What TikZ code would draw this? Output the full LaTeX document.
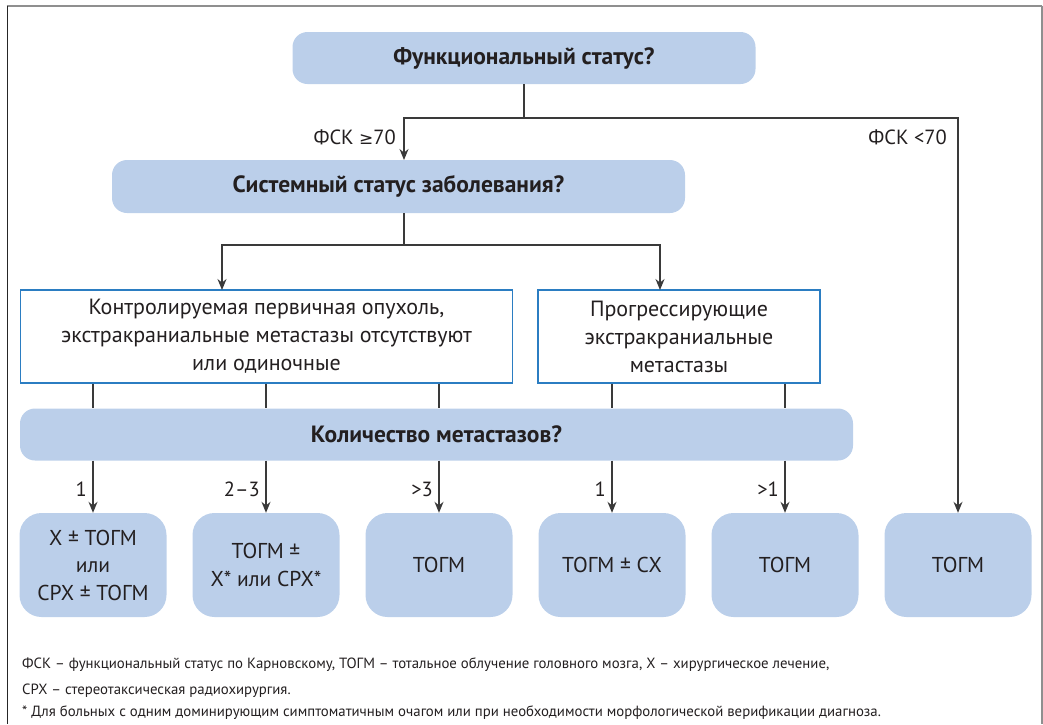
\documentclass[tikz,border=0pt]{standalone}
\usepackage{fontspec}
\setmainfont{PT Sans}
\newfontfamily\symfont{DejaVu Sans}
\usetikzlibrary{arrows.meta}
\definecolor{boxblue}{HTML}{BBCFEA}
\definecolor{edgeblue}{HTML}{2B7DC2}
\definecolor{linegray}{HTML}{3A3A3A}
\definecolor{txt}{HTML}{231F20}
\definecolor{framegray}{HTML}{8F8F8F}
\begin{document}
\begin{tikzpicture}[x=1pt,y=-1pt,
  qbox/.style={fill=boxblue, rounded corners=15pt, text=txt, inner sep=0pt,
    font=\fontsize{23.5}{28}\selectfont\bfseries},
  wbox/.style={draw=edgeblue, line width=1.3pt, fill=white, text=txt, inner sep=0pt,
    align=center, font=\fontsize{22}{28}\selectfont},
  rbox/.style={fill=boxblue, rounded corners=22pt, text=txt, inner sep=0pt,
    align=center, minimum width=147pt, minimum height=104pt,
    font=\fontsize{21.5}{27.5}\selectfont},
  conn/.style={draw=linegray, line width=1.4pt},
  arr/.style={conn, -{Stealth[length=11pt,width=9pt]}},
  lab/.style={text=txt, inner sep=0pt, font=\fontsize{20.5}{24}\selectfont},
  note/.style={text=txt, inner sep=0pt, anchor=base west, font=\fontsize{14.8}{18}\selectfont}
]
\useasboundingbox (0,0) rectangle (1043,724);
% frame
\draw[framegray, line width=2pt] (6.5,5.5) -- (1042,5.5);
\draw[framegray, line width=1.5pt] (1042,5.5) -- (1042,724);
\draw[black!85, line width=1.5pt] (7.5,5.5) -- (7.5,724);

% nodes
\node[qbox, minimum width=463pt, minimum height=52pt] (fs) at (524,58) {Функциональный статус?};
\node[qbox, minimum width=573pt, minimum height=53pt] (sys) at (398.5,186.5) {Системный статус заболевания?};
\node[wbox, minimum width=492pt, minimum height=93pt] (ctl) at (266.5,336.5)
  {Контролируемая первичная опухоль,\\экстракраниальные метастазы отсутствуют\\или одиночные};
\node[wbox, minimum width=282pt, minimum height=93pt] (prg) at (679,336.5)
  {Прогрессирующие\\экстракраниальные\\метастазы};
\node[qbox, minimum width=833pt, minimum height=52pt] (kol) at (436.5,434.5) {Количество метастазов?};

\node[rbox] (t1) at (93,565) {Х ± ТОГМ\\или\\СРХ ± ТОГМ};
\node[rbox] (t2) at (266,565) {ТОГМ ±\\Х* или СРХ*};
\node[rbox] (t3) at (439,565) {ТОГМ};
\node[rbox] (t4) at (612,565) {ТОГМ ± СХ};
\node[rbox] (t5) at (785,565) {ТОГМ};
\node[rbox] (t6) at (958,565) {ТОГМ};

% junctions
\coordinate (j1) at (524,118);
\coordinate (a1) at (404,160);
\coordinate (s1) at (404,213);
\coordinate (j2) at (404,245);
\coordinate (a2l) at (222,290);
\coordinate (a2r) at (660,290);

% connectors
\draw[conn] (fs.south) -- (j1);
\draw[arr] (j1) -| (a1);
\draw[arr] (j1) -| (t6.north);
\draw[conn] (s1) -- (j2);
\draw[arr] (j2) -| (a2l);
\draw[arr] (j2) -| (a2r);

\foreach \t in {t1,t2,t3}{
  \draw[conn] (ctl.south -| \t.north) -- (kol.north -| \t.north);
}
\foreach \t in {t4,t5}{
  \draw[conn] (prg.south -| \t.north) -- (kol.north -| \t.north);
}
\foreach \t in {t1,t2,t3,t4,t5}{
  \draw[arr] (kol.south -| \t.north) -- (\t.north);
}

% labels
\node[lab, anchor=east] (l1) at (396,137) {ФСК {\symfont\fontsize{17}{20}\selectfont ≥}70};
\node[lab, anchor=east] (l2) at (947,137) {ФСК <70};
\node[lab, anchor=east] (n1) at (87,489) {1};
\node[lab, anchor=east] (n2) at (260,489) {2–3};
\node[lab, anchor=east] (n3) at (433,489) {>3};
\node[lab, anchor=east] (n4) at (606,489) {1};
\node[lab, anchor=east] (n5) at (779,489) {>1};

% footnote
\node[note] (f1) at (22,668) {ФСК – функциональный статус по Карновскому, ТОГМ – тотальное облучение головного мозга, Х – хирургическое лечение,};
\node[note] (f2) at (22,694) {СРХ – стереотаксическая радиохирургия.};
\node[note] (f3) at (22,716) {* Для больных с одним доминирующим симптоматичным очагом или при необходимости морфологической верификации диагноза.};
\end{tikzpicture}
\end{document}
